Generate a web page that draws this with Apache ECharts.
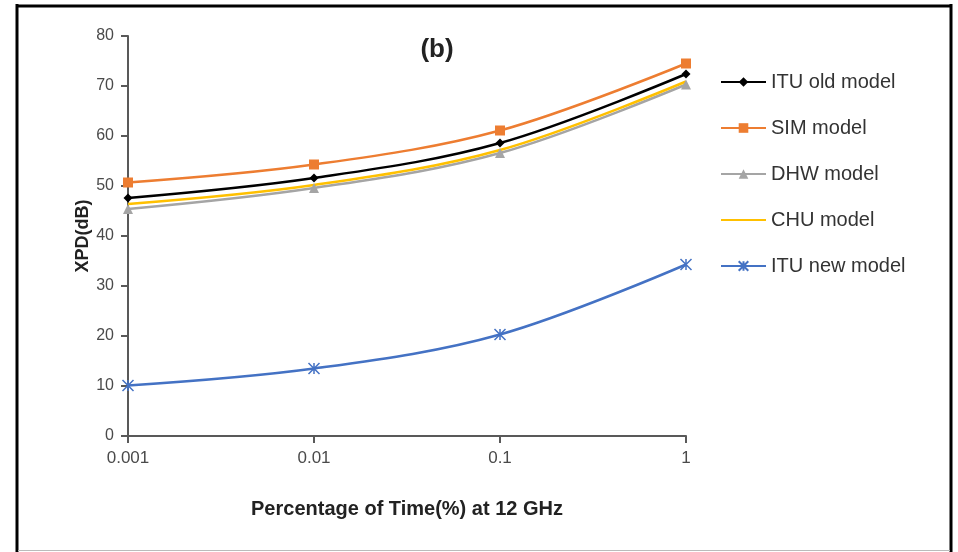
<!DOCTYPE html>
<html><head><meta charset="utf-8">
<script src="https://cdn.jsdelivr.net/npm/echarts@6/dist/echarts.min.js"></script>
<style>html,body{margin:0;padding:0;background:#fff}#c{width:958px;height:552px}</style>
</head><body><div id="c"></div>
<script>
const timePct = [0.001, 0.01, 0.1, 1];
const xTickLabels = ['0.001', '0.01', '0.1', '1'];
const ituOld = [47.6, 51.6, 58.6, 72.4];
const simModel = [50.7, 54.3, 61.1, 74.5];
const dhwModel = [45.4, 49.6, 56.6, 70.3];
const chuModel = [46.4, 50.2, 57.2, 70.9];
const ituNew = [10.1, 13.5, 20.3, 34.3];
const yTicks = [0, 10, 20, 30, 40, 50, 60, 70, 80];

const chart = echarts.init(document.getElementById('c'));
const pts = v => timePct.map((x, i) => [x, v[i]]);
const font = 'Liberation Sans, Arial, sans-serif';
const mk = (name, vals, color, symbol, size, extra) => Object.assign({
  name, type: 'line', smooth: 0.35, data: pts(vals), symbol, symbolSize: size,
  lineStyle: { color, width: 2.5 }, itemStyle: { color },
}, extra || {});

chart.setOption({
  animation: false,
  title: { text: '(b)', left: 432, top: 32, textAlign: 'center',
    textStyle: { fontFamily: font, fontSize: 26, fontWeight: 'bold', color: '#222' } },
  grid: { left: 128, top: 36, right: 272, bottom: 116 },
  legend: {
    orient: 'vertical', left: 720, top: 72, padding: 0, itemWidth: 45, itemHeight: 12, itemGap: 26,
    textStyle: { fontFamily: font, fontSize: 20, lineHeight: 20, color: '#333' },
    data: ['ITU old model', 'SIM model', 'DHW model',
      { name: 'CHU model', itemStyle: { opacity: 0 } }, 'ITU new model']
  },
  xAxis: {
    type: 'log', logBase: 10, min: 0.001, max: 1,
    name: 'Percentage of Time(%) at 12 GHz', nameLocation: 'middle', nameGap: 63,
    nameTextStyle: { fontFamily: font, fontSize: 20, fontWeight: 'bold', color: '#222' },
    axisLine: { lineStyle: { color: '#595959', width: 2 } },
    axisTick: { show: true, length: 7, lineStyle: { color: '#595959', width: 2 } },
    minorTick: { show: false }, splitLine: { show: false },
    axisLabel: { fontFamily: font, fontSize: 17, color: '#4a4a4a', margin: 14,
      formatter: v => { const i = timePct.findIndex(t => Math.abs(Math.log10(t) - Math.log10(v)) < 1e-6); return i >= 0 ? xTickLabels[i] : ''; } }
  },
  yAxis: {
    type: 'value', min: yTicks[0], max: yTicks[yTicks.length - 1], interval: 10,
    name: 'XPD(dB)', nameLocation: 'middle', nameGap: 36, nameMoveOverlap: false,
    nameTextStyle: { fontFamily: font, fontSize: 18, fontWeight: 'bold', color: '#222' },
    axisLine: { show: true, lineStyle: { color: '#595959', width: 2 } },
    axisTick: { show: true, length: 7, lineStyle: { color: '#595959', width: 2 } },
    splitLine: { show: false },
    axisLabel: { fontFamily: font, fontSize: 16, color: '#4a4a4a', margin: 14 }
  },
  series: [
    mk('DHW model', dhwModel, '#A5A5A5', 'triangle', 10),
    mk('CHU model', chuModel, '#FFC000', 'none', 0),
    mk('ITU old model', ituOld, '#000000', 'diamond', 9),
    mk('SIM model', simModel, '#ED7D31', 'rect', 10),
    mk('ITU new model', ituNew, '#4472C4', 'path://M0,0L10,10M10,0L0,10M5,0L5,10', 11,
      { itemStyle: { color: 'rgba(0,0,0,0)', borderColor: '#4472C4', borderWidth: 1.5 } })
  ],
  graphic: [
    { type: 'line', shape: { x1: 17, y1: 4, x2: 17, y2: 552 }, style: { stroke: '#000', lineWidth: 3 } },
    { type: 'line', shape: { x1: 16, y1: 6, x2: 952, y2: 6 }, style: { stroke: '#000', lineWidth: 3 } },
    { type: 'line', shape: { x1: 951, y1: 4, x2: 951, y2: 552 }, style: { stroke: '#000', lineWidth: 3 } },
    { type: 'line', shape: { x1: 18, y1: 550.5, x2: 950, y2: 550.5 }, style: { stroke: '#bbb', lineWidth: 1 } }
  ]
});
</script></body></html>
